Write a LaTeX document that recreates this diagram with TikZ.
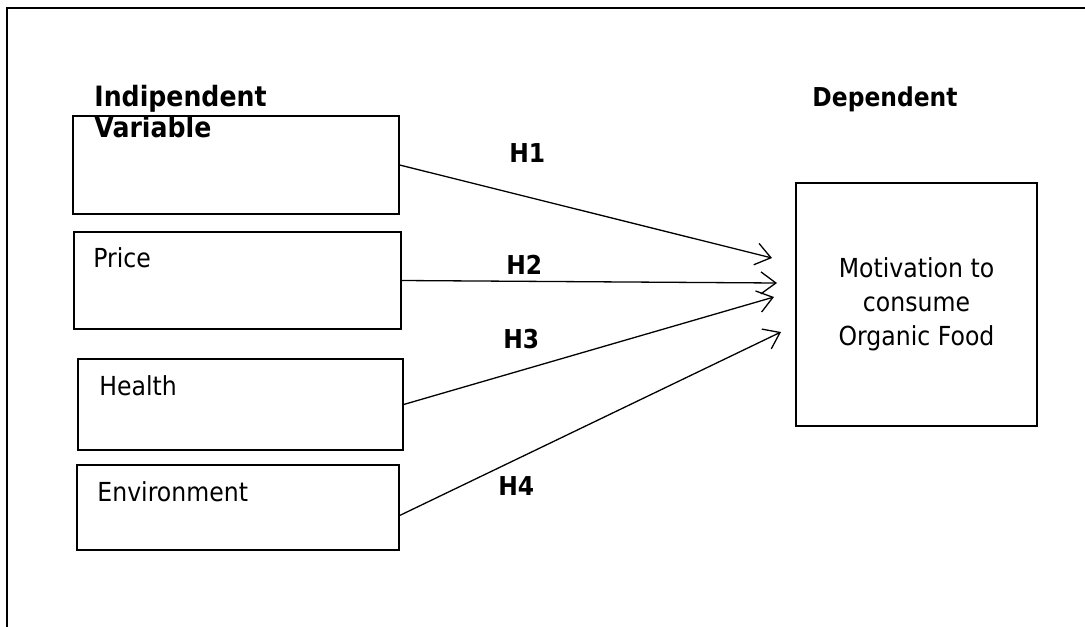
\documentclass[tikz,border=0pt]{standalone}
\usepackage{fontspec}
\setmainfont{DejaVu Sans}[FakeStretch=0.9]
\usetikzlibrary{positioning,arrows.meta}

\begin{document}
\begin{tikzpicture}[x=0.5pt,y=-0.5pt,
  varbox/.style={draw,line width=0.65pt,inner sep=0pt},
  lbl/.style={anchor=base west,inner sep=0pt,font=\fontsize{13.1}{15}\selectfont},
  hlbl/.style={anchor=base west,inner sep=0pt,font=\fontsize{13}{15}\selectfont\bfseries},
  head/.style={hlbl,font=\fontsize{14}{16}\selectfont\bfseries},
  hyp/.style={line width=0.65pt,-{Straight Barb[length=7.5pt,width=11pt]}}]
\useasboundingbox (0,0) rectangle (1085,626);
\draw[line width=0.8pt] (7,8) rectangle (1100,640);
% independent variables
\node[varbox,minimum width=163pt,minimum height=49pt] (var) at (236,165) {};
\node[varbox,minimum width=163.5pt,minimum height=48.5pt] (price) at (237.5,280.5) {};
\node[varbox,minimum width=162.5pt,minimum height=45.5pt] (health) at (240.5,404.5) {};
\node[varbox,minimum width=161pt,minimum height=42.5pt] (env) at (238,507.5) {};
\node[head] (indep) at (94,106) {Indipendent};
\node[head] (indep2) at (94,137) {Variable};
\node[lbl] (tprice) at (93,267) {Price};
\node[lbl] (thealth) at (99,395) {Health};
\node[lbl] (tenv) at (97,501) {Environment};
% dependent variable
\node[hlbl,anchor=base] (dep) at (885,106) {Dependent};
\node[varbox,minimum width=120.5pt,minimum height=121.5pt,align=center,
  font=\fontsize{13.1}{17}\selectfont] (motiv) at (916.5,304.5)
  {Motivation to\\consume\\Organic Food};
% hypotheses
\coordinate (t1) at (772,258);
\coordinate (t2) at (777,283);
\coordinate (t3) at (774,297);
\coordinate (t4) at (781,332);
\draw[hyp] (var.east) -- (t1);
\draw[hyp] (price.east) -- (t2);
\draw[hyp] (health.east) -- (t3);
\draw[hyp] ([yshift=-4pt]env.east) -- (t4);
\node[hlbl] (h1) at (509,162) {H1};
\node[hlbl] (h2) at (506,274) {H2};
\node[hlbl] (h3) at (503,348) {H3};
\node[hlbl] (h4) at (498,495) {H4};
\end{tikzpicture}
\end{document}
